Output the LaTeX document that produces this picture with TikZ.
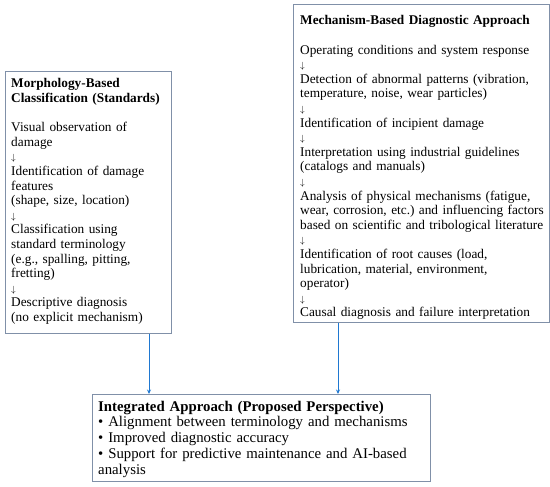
\documentclass[tikz,border=0pt]{standalone}
\usepackage{fontspec}
\setmainfont{Liberation Serif}
\frenchspacing
\usetikzlibrary{arrows.meta}
\definecolor{boxline}{HTML}{8090A8}
\definecolor{arrblue}{HTML}{1F78D1}
\newcommand\darrow{{\fontsize{9.5}{14.6}\selectfont$\downarrow$}}
\tikzset{
  boxnode/.style={draw=boxline, line width=0.8pt, anchor=north west, inner sep=0pt, fill=white},
  sidetext/.style={anchor=base west, inner sep=0pt, text width=#1, align=left, font=\fontsize{13.3}{14.6}\selectfont},
  bottext/.style={anchor=base west, inner sep=0pt, text width=#1, align=left, font=\fontsize{14.8}{15.75}\selectfont},
  conn/.style={draw=arrblue, line width=0.9pt, -{Stealth[length=4.5pt,width=4pt]}}
}
\begin{document}
\begin{tikzpicture}[x=1pt,y=1pt]
\useasboundingbox (0,0) rectangle (550,-487);
% boxes
\node[boxnode, minimum width=166pt, minimum height=262pt] (lbox) at (5,-71) {};
\node[boxnode, minimum width=256pt, minimum height=318pt] (rbox) at (293,-4) {};
\node[boxnode, minimum width=338pt, minimum height=87pt] (bbox) at (92,-394) {};
% texts
\node[sidetext=200pt] (ltext) at (11,-88) {\textbf{Morphology-Based}\\
\textbf{Classification (Standards)}\\[14.6pt]
Visual observation of\\
damage\\
\darrow\\
Identification of damage\\
features\\
(shape, size, location)\\
\darrow\\
Classification using\\
standard terminology\\
(e.g., spalling, pitting,\\
fretting)\\
\darrow\\
Descriptive diagnosis\\
(no explicit mechanism)};
\node[sidetext=300pt] (rtext) at (300,-25) {\textbf{Mechanism-Based Diagnostic Approach}\\[14.6pt]
Operating conditions and system response\\
\darrow\\
Detection of abnormal patterns (vibration,\\
temperature, noise, wear particles)\\
\darrow\\
Identification of incipient damage\\
\darrow\\
Interpretation using industrial guidelines\\
(catalogs and manuals)\\
\darrow\\
Analysis of physical mechanisms (fatigue,\\
wear, corrosion, etc.) and influencing factors\\
based on scientific and tribological literature\\
\darrow\\
Identification of root causes (load,\\
lubrication, material, environment,\\
operator)\\
\darrow\\
Causal diagnosis and failure interpretation};
\node[bottext=400pt] (btext) at (98,-411) {\textbf{Integrated Approach (Proposed Perspective)}\\
\textbullet{} Alignment between terminology and mechanisms\\
\textbullet{} Improved diagnostic accuracy\\
\textbullet{} Support for predictive maintenance and AI-based\\
analysis};
% connectors
\draw[conn] ([xshift=144pt]lbox.south west) -- ([xshift=57pt]bbox.north west);
\draw[conn] ([xshift=45pt]rbox.south west) -- ([xshift=246pt]bbox.north west);
\end{tikzpicture}
\end{document}
